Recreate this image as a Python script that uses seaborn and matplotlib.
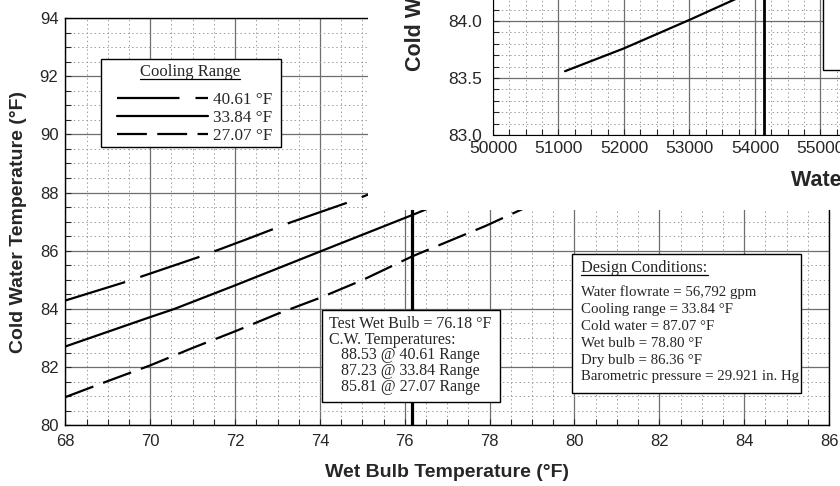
import seaborn as sns
import matplotlib.pyplot as plt
from matplotlib.patches import Rectangle
from matplotlib.lines import Line2D
from matplotlib.ticker import MultipleLocator, FormatStrFormatter

# Curvas de desempenho
wb_4061 = [68, 69.4, 71.2, 72.3, 73.3, 74.7, 76.18]
cw_4061 = [84.29, 84.92, 85.81, 86.41, 86.97, 87.68, 88.53]
wb_3384 = [68, 70, 70.57, 72, 74.05, 76.18, 76.6]
cw_3384 = [82.71, 83.72, 84.0, 84.81, 86.0, 87.23, 87.48]
wb_2707 = [68, 69, 70, 71, 72, 73, 74, 75, 76.18, 77.9, 78.8]
cw_2707 = [80.97, 81.52, 82.06, 82.66, 83.23, 83.83, 84.38, 84.99, 85.81, 86.85, 87.45]
range_labels = ['40.61 °F', '33.84 °F', '27.07 °F']
test_wet_bulb = 76.18

# Gráfico sobreposto (vazão de água)
flow = [51100, 52000, 53000, 54000, 54500]
cw_flow = [83.56, 83.76, 84.01, 84.27, 84.40]
test_flow = 54130

test_txt = ('Test Wet Bulb = 76.18 °F\nC.W. Temperatures:\n'
            '   88.53 @ 40.61 Range\n   87.23 @ 33.84 Range\n   85.81 @ 27.07 Range')
design_title = 'Design Conditions:'
design_txt = ('Water flowrate = 56,792 gpm\nCooling range = 33.84 °F\n'
              'Cold water = 87.07 °F\nWet bulb = 78.80 °F\nDry bulb = 86.36 °F\n'
              'Barometric pressure = 29.921 in. Hg')

sns.set_style('ticks')
plt.rcParams['font.family'] = ['Liberation Sans', 'DejaVu Sans']
plt.rcParams['lines.scale_dashes'] = False
serif = ['Liberation Serif', 'DejaVu Serif']

fig = plt.figure(figsize=(8.4, 4.86), dpi=100)
ax = fig.add_axes([0.07786, 0.1249, 0.90905, 0.83807])

sns.lineplot(x=wb_4061, y=cw_4061, ax=ax, color='black', lw=1.6,
             linestyle=(0, (45, 11.5)), label=range_labels[0])
sns.lineplot(x=wb_3384, y=cw_3384, ax=ax, color='black', lw=1.6,
             linestyle='-', label=range_labels[1])
sns.lineplot(x=wb_2707, y=cw_2707, ax=ax, color='black', lw=1.6,
             linestyle=(0, (21.5, 7.5)), label=range_labels[2])
ax.axvline(test_wet_bulb, color='black', lw=2.3, zorder=3)

ax.set_xlim(68, 86)
ax.set_ylim(80, 94)
ax.xaxis.set_major_locator(MultipleLocator(2))
ax.xaxis.set_minor_locator(MultipleLocator(0.5))
ax.yaxis.set_major_locator(MultipleLocator(2))
ax.yaxis.set_minor_locator(MultipleLocator(0.5))
ax.grid(which='major', color='#6e6e6e', lw=0.9)
ax.grid(which='minor', color='#9a9a9a', lw=0.7, ls=(0, (1, 2)))
ax.set_axisbelow(True)
ax.tick_params(which='both', direction='in', length=4, width=0.8, labelsize=12)
ax.tick_params(axis='x', pad=6)
ax.tick_params(axis='y', pad=5)
for s in ax.spines.values():
    s.set_color('black')
    s.set_linewidth(1.0)
ax.set_xlabel('Wet Bulb Temperature (°F)', fontsize=14, fontweight='bold')
ax.set_ylabel('Cold Water Temperature (°F)', fontsize=14, fontweight='bold')
ax.xaxis.set_label_coords(0.5, -0.095)
ax.yaxis.set_label_coords(-0.050, 0.5)

# legenda (moldura e título desenhados à parte)
ax.add_patch(Rectangle((68.84, 89.57), 4.24, 3.02, fc='white', ec='black', lw=1.0, zorder=5))
t_leg = ax.text(70.94, 92.14, 'Cooling Range', family=serif, size=12, ha='center',
                va='center', zorder=6)
leg = ax.legend(loc='upper left', bbox_to_anchor=(0.0676, 0.818),
                borderaxespad=0, frameon=False, handlelength=5.3, handletextpad=0.3,
                labelspacing=0.12, borderpad=0,
                prop={'family': serif, 'size': 12.3})
leg.set_zorder(6)

# caixas de texto
ax.add_patch(Rectangle((74.06, 80.81), 4.19, 3.15, fc='white', ec='black', lw=1.0, zorder=4))
ax.text(74.22, 82.40, test_txt, family=serif, size=11.5, va='center', ha='left',
        linespacing=0.975, zorder=5)
ax.add_patch(Rectangle((79.94, 81.10), 5.40, 4.79, fc='white', ec='black', lw=1.0, zorder=4))
t_design = ax.text(80.16, 85.41, design_title, family=serif, size=11.7, va='center',
                   ha='left', zorder=5)
ax.text(80.16, 83.12, design_txt, family=serif, size=10.7, va='center', ha='left',
        linespacing=1.38, zorder=5)

# área branca do gráfico sobreposto
cover = fig.add_axes([0.4381, 0.5679, 0.5619, 0.4321])
cover.set_xticks([])
cover.set_yticks([])
for s in cover.spines.values():
    s.set_visible(False)

ins = fig.add_axes([0.5869, 0.7222, 0.9357, 0.7037])
sns.lineplot(x=flow, y=cw_flow, ax=ins, color='black', lw=1.6)
ins.axvline(test_flow, color='black', lw=2.0, zorder=3)
ins.set_xlim(50000, 62000)
ins.set_ylim(83.0, 86.0)
ins.xaxis.set_major_locator(MultipleLocator(1000))
ins.xaxis.set_minor_locator(MultipleLocator(250))
ins.yaxis.set_major_locator(MultipleLocator(0.5))
ins.yaxis.set_minor_locator(MultipleLocator(0.1))
ins.yaxis.set_major_formatter(FormatStrFormatter('%.1f'))
ins.grid(which='major', color='#6e6e6e', lw=0.9)
ins.grid(which='minor', color='#9a9a9a', lw=0.7, ls=(0, (1, 2)))
ins.set_axisbelow(True)
ins.tick_params(which='both', direction='in', length=4, width=0.8, labelsize=12.5)
ins.tick_params(axis='x', pad=4)
ins.tick_params(axis='y', pad=8)
for s in ins.spines.values():
    s.set_color('black')
ins.add_patch(Rectangle((55040, 83.57), 6000, 3, fc='white', ec='black', lw=1.0, zorder=4))
ins.set_xlabel('Water Flowrate (gpm)', fontsize=15.5, fontweight='bold')
ins.set_ylabel('Cold Water Temperature (°F)', fontsize=15.5, fontweight='bold')
ins.xaxis.set_label_coords(0.518, -0.102)
ins.yaxis.set_label_coords(-0.085, 0.611)

# sublinhado dos títulos
fig.canvas.draw()
inv = fig.transFigure.inverted()
for t in [t_leg, t_design]:
    bb = t.get_window_extent()
    (x0, y0), (x1, _) = inv.transform([(bb.x0, bb.y0 + 1), (bb.x1, bb.y0 + 1)])
    fig.add_artist(Line2D([x0, x1], [y0, y0], transform=fig.transFigure,
                          color='black', lw=0.9, zorder=10))

fig.savefig('out.png', dpi=100)
